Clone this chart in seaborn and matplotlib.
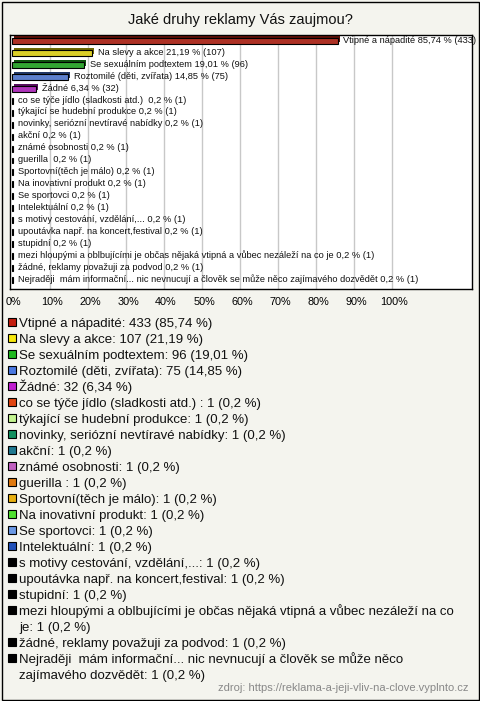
import textwrap
import matplotlib
matplotlib.use("Agg")
import matplotlib.pyplot as plt
import matplotlib.patheffects as pe
import matplotlib.transforms as mtrans
from matplotlib.patches import Rectangle
import seaborn as sns
import pandas as pd

title = "Jaké druhy reklamy Vás zaujmou?"
source = "zdroj: https://reklama-a-jeji-vliv-na-clove.vyplnto.cz"

categories = [
    "Vtipné a nápadité",
    "Na slevy a akce",
    "Se sexuálním podtextem",
    "Roztomilé (děti, zvířata)",
    "Žádné",
    "co se týče jídlo (sladkosti atd.) ",
    "týkající se hudební produkce",
    "novinky, seriózní nevtíravé nabídky",
    "akční",
    "známé osobnosti",
    "guerilla ",
    "Sportovní(těch je málo)",
    "Na inovativní produkt",
    "Se sportovci",
    "Intelektuální",
    "s motivy cestování, vzdělání,...",
    "upoutávka např. na koncert,festival",
    "stupidní",
    "mezi hloupými a oblbujícími je občas nějaká vtipná a vůbec nezáleží na co je",
    "žádné, reklamy považuji za podvod",
    "Nejraději  mám informační... nic nevnucují a člověk se může něco zajímavého dozvědět",
]
counts = [433, 107, 96, 75, 32] + [1] * 16
percents = [85.74, 21.19, 19.01, 14.85, 6.34] + [0.2] * 16
colors = [
    "#c41e0e", "#f7e80c", "#1fb81f", "#4a78e0", "#c01ed0",
    "#e04410", "#c4f590", "#119060", "#1f7890", "#c060c0",
    "#e07a10", "#e8b010", "#50e030", "#6a98e4", "#2050b8",
    "#000000", "#000000", "#000000", "#000000", "#000000", "#000000",
]
xticks = [0, 10, 20, 30, 40, 50, 60, 70, 80, 90, 100]


def fmt(p):
    return f"{p:g}".replace(".", ",")


df = pd.DataFrame({"cat": categories, "pct": percents, "n": counts})

BG = "#f4f4ee"
W, H = 480, 701
fig = plt.figure(figsize=(W / 100, H / 100), dpi=100, facecolor=BG)

L, R, T, B = 10, 472, 35, 289
ax = fig.add_axes([L / W, 1 - B / H, (R - L) / W, (B - T) / H])
ax.set_facecolor("white")

sns.barplot(data=df, x="pct", y="cat", hue="cat", palette=colors, legend=False,
            orient="h", width=0.5, ax=ax, edgecolor="black", linewidth=0.8,
            zorder=3)

ax.set_xlim(-0.5, 121)
ax.set_ylim(20.75, -0.5)
for t in xticks[1:]:
    ax.axvline(t, color="#c8c8c8", lw=1, zorder=1)

for patch, c in zip(ax.patches, colors):
    dark = tuple(max(0, v * 0.45) for v in matplotlib.colors.to_rgb(c))
    patch.set_path_effects([
        pe.SimplePatchShadow(offset=(1.2, 1.2), shadow_rgbFace=dark, alpha=1),
        pe.Normal(),
    ])

for i, (patch, cat, p, n) in enumerate(zip(ax.patches, categories, percents, counts)):
    x_end = patch.get_x() + patch.get_width()
    y_c = patch.get_y() + patch.get_height() / 2
    ax.annotate(f"{cat} {fmt(p)} % ({n})", (x_end, y_c), xytext=(4, 0.5),
                textcoords="offset points", va="center", ha="left",
                fontsize=6.7, family="Liberation Sans", color="#111111", zorder=5)

ax.set_xticks(xticks)
ax.set_xticklabels([f"{t}%" for t in xticks], family="Liberation Sans", fontsize=7.8)
ax.tick_params(axis="x", length=0, pad=6)
shift = mtrans.ScaledTranslation(2 / 100, 0, fig.dpi_scale_trans)
for lab in ax.get_xticklabels():
    lab.set_transform(lab.get_transform() + shift)
ax.set_yticks([])
ax.set_xlabel("")
ax.set_ylabel("")
for s in ax.spines.values():
    s.set_color("black")
    s.set_linewidth(1)

fig.text(0.5, 1 - 20 / H, title, ha="center", va="center", fontsize=10.5,
         family="Liberation Sans", color="#111111")

# legend
y = 322
for cat, p, n, c in zip(categories, percents, counts, colors):
    txt = textwrap.fill(f"{cat}: {n} ({fmt(p)} %)", 74)
    lines = txt.split("\n")
    fig.patches.append(Rectangle((8 / W, 1 - (y + 4) / H), 8 / W, 8 / H,
                                 transform=fig.transFigure, facecolor=c,
                                 edgecolor="black", linewidth=0.8))
    for k, line in enumerate(lines):
        fig.text(19 / W, 1 - (y + 5 + 16 * k) / H, line, ha="left", va="baseline",
                 fontsize=9.5, family="Liberation Sans", color="#111111")
    y += 16 * len(lines)

fig.text(468 / W, 1 - 688 / H, source, ha="right", va="center", fontsize=8,
         family="Liberation Sans", color="#888888")

fig.patches.append(Rectangle((1.5 / W, 1.5 / H), (W - 3) / W, (H - 3) / H,
                             transform=fig.transFigure, facecolor="none",
                             edgecolor="black", linewidth=1))

fig.savefig("out.png", dpi=100, facecolor=BG)
